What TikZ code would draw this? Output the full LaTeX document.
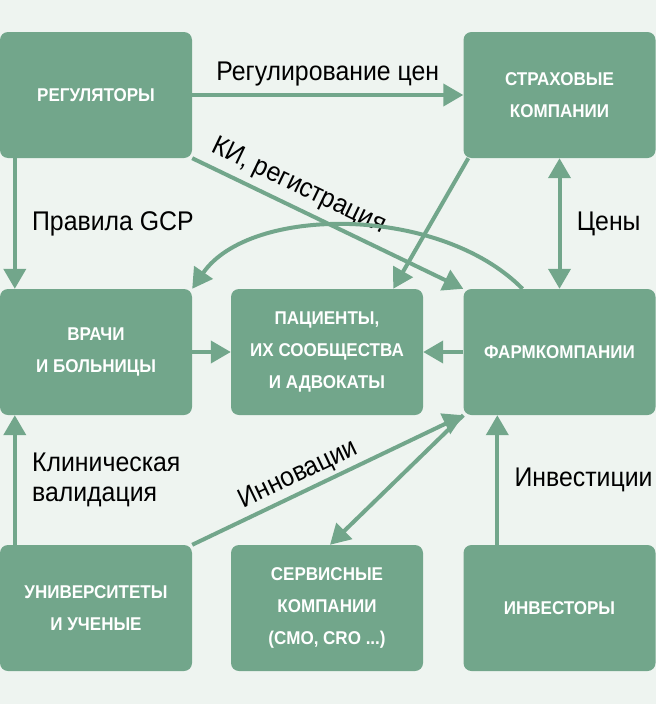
\documentclass[tikz,border=0pt]{standalone}
\usepackage{fontspec}
\setmainfont{Liberation Sans}[FakeStretch=0.92]
\usetikzlibrary{arrows.meta}

\definecolor{boxgreen}{HTML}{72A68B}
\definecolor{bggreen}{HTML}{EEF4F0}

\begin{document}
\begin{tikzpicture}[x=1pt,y=-1pt,
  box/.style={fill=boxgreen,rounded corners=8pt,minimum width=192pt,minimum height=126pt,
    inner sep=0pt,text=white,align=center,font=\bfseries\fontsize{18.5}{32}\selectfont},
  flow/.style={draw=boxgreen,line width=4pt,-{Triangle[length=20pt,width=22pt]}},
  both/.style={draw=boxgreen,line width=4pt,{Triangle[length=20pt,width=22pt]}-{Triangle[length=20pt,width=22pt]}},
  lbl/.style={text=black,font=\fontsize{27}{30}\selectfont}]

\fill[bggreen] (0,0) rectangle (656,704);

% boxes
\node[box] (REG) at (96,95)    {РЕГУЛЯТОРЫ};
\node[box] (INS) at (559.5,95) {СТРАХОВЫЕ\\КОМПАНИИ};

\node[box] (DOC) at (96,352)    {ВРАЧИ\\И БОЛЬНИЦЫ};
\node[box] (PAT) at (327,352)   {ПАЦИЕНТЫ,\\ИХ СООБЩЕСТВА\\И АДВОКАТЫ};
\node[box] (PHA) at (559.5,352) {ФАРМКОМПАНИИ};

\node[box] (UNI) at (96,608)    {УНИВЕРСИТЕТЫ\\И УЧЕНЫЕ};
\node[box] (SRV) at (327,608)   {СЕРВИСНЫЕ\\КОМПАНИИ\\(CMO, CRO ...)};
\node[box] (INV) at (559.5,608) {ИНВЕСТОРЫ};

% top row
\draw[flow] (REG.east) -- (INS.west)
  node[lbl,midway,above=4pt] (lprice) {Регулирование цен};
\draw[flow] (REG.south east) -- (PHA.north west)
  node[lbl,pos=0.36,sloped,above=3pt] (lreg) {КИ, регистрация};
\draw[flow] ([xshift=15pt]REG.south west) -- ([xshift=15pt]DOC.north west)
  node[lbl,midway,right=12pt] (lgcp) {Правила GCP};
\draw[flow] ([xshift=5pt]INS.south west) -- ([xshift=-30pt]PAT.north east);
\draw[both] (INS.south) -- (PHA.north)
  node[lbl,midway,right=12pt] (lcost) {Цены};

\coordinate (C1) at (440,205);
\coordinate (C2) at (250,205);
\draw[flow] ([xshift=-37pt]PHA.north) .. controls (C1) and (C2) .. (DOC.north east);

% middle row
\draw[flow] (DOC.east) -- (PAT.west);
\draw[flow] (PHA.west) -- (PAT.east);

% bottom row
\draw[flow] ([xshift=15pt]UNI.north west) -- ([xshift=15pt]DOC.south west)
  node[lbl,midway,right=12pt,align=left] (lval) {Клиническая\\валидация};
\draw[flow] (PHA.south west) -- ([xshift=3pt]SRV.north);
\draw[flow] (UNI.north east) -- (PHA.south west)
  node[lbl,pos=0.42,sloped,above=0pt] (linn) {Инновации};
\draw[flow] ([xshift=34pt]INV.north west) -- ([xshift=34pt]PHA.south west)
  node[lbl,midway,right=12pt] (linv) {Инвестиции};

\end{tikzpicture}
\end{document}
